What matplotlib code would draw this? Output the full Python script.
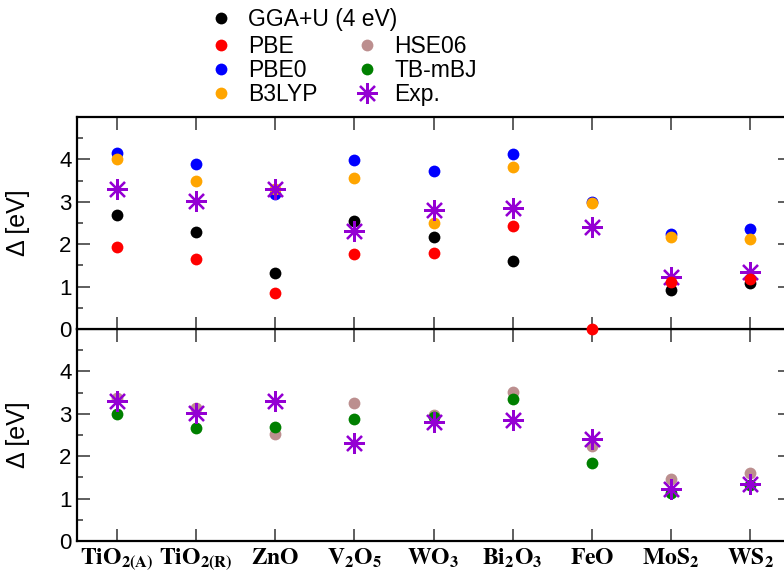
import numpy as np
import matplotlib
matplotlib.use("Agg")
import matplotlib.pyplot as plt
from matplotlib.ticker import MultipleLocator

plt.rcParams['font.family'] = ['Liberation Sans', 'DejaVu Sans']
plt.rcParams['mathtext.fontset'] = 'stix'

materials = [r'$\mathbf{TiO_{2(A)}}$', r'$\mathbf{TiO_{2(R)}}$', r'$\mathbf{ZnO}$',
             r'$\mathbf{V_2O_5}$', r'$\mathbf{WO_3}$', r'$\mathbf{Bi_2O_3}$',
             r'$\mathbf{FeO}$', r'$\mathbf{MoS_2}$', r'$\mathbf{WS_2}$']

# band gaps in eV (nan = not shown)
gga_u = [2.70, 2.29, 1.31, 2.55, 2.18, 1.60, np.nan, 0.91, 1.08]
pbe = [1.93, 1.65, 0.84, 1.76, 1.79, 2.44, 0.00, 1.12, 1.17]
pbe0 = [4.16, 3.88, 3.18, 3.99, 3.73, 4.12, 3.00, 2.25, 2.37]
b3lyp = [4.02, 3.48, 3.30, 3.57, 2.51, 3.83, 2.98, 2.16, 2.12]
hse06 = [3.38, 3.14, 2.53, 3.25, 2.96, 3.52, 2.25, 1.47, 1.60]
tbmbj = [3.00, 2.66, 2.69, 2.87, 2.92, 3.36, 1.84, 1.13, 1.32]
exp_gap = [3.30, 3.03, 3.30, 2.30, 2.81, 2.86, 2.40, 1.23, 1.35]

x = np.arange(len(materials))

fig = plt.figure(figsize=(7.84, 5.75), dpi=100)
ax_top = fig.add_axes([77 / 784, 1 - 329 / 575, 713 / 784, 212 / 575])
ax_bot = fig.add_axes([77 / 784, 1 - 541 / 575, 713 / 784, 212 / 575])
ax_top.set_zorder(2)

dot = dict(linestyle='none', marker='o', markersize=8.5, markeredgewidth=0, clip_on=False)
star = dict(linestyle='none', marker=(8, 2, 0), markersize=15, markeredgewidth=1.6,
            color='#9400D3', clip_on=False)

h_gga, = ax_top.plot(x, gga_u, color='black', **dot)
h_pbe, = ax_top.plot(x, pbe, color='red', zorder=5, **dot)
h_pbe0, = ax_top.plot(x, pbe0, color='blue', **dot)
h_b3, = ax_top.plot(x, b3lyp, color='orange', **dot)
h_exp, = ax_top.plot(x, exp_gap, **star)

h_hse, = ax_bot.plot(x, hse06, color='#BC8F8F', **dot)
h_tb, = ax_bot.plot(x, tbmbj, color='green', **dot)
ax_bot.plot(x, exp_gap, **star)

for ax in (ax_top, ax_bot):
    ax.set_xlim(-0.5, 8.5)
    ax.set_ylim(0, 5)
    ax.set_xticks(x)
    ax.yaxis.set_minor_locator(MultipleLocator(0.5))
    ax.set_yticks([0, 1, 2, 3, 4])
    ax.tick_params(which='both', direction='in', top=True, bottom=True,
                   left=True, right=True, labelsize=16, width=1.1, color='#333333')
    ax.tick_params(which='major', length=9, pad=4)
    ax.tick_params(which='minor', length=4.5, right=False)
    for sp in ax.spines.values():
        sp.set_linewidth(1.6)
    ax.set_ylabel('Δ [eV]', fontsize=18)
    ax.yaxis.set_label_coords(-0.066, 0.5)

ax_top.tick_params(labelbottom=False)
ax_bot.set_xticklabels(materials, fontsize=17)

leg_kw = dict(loc='upper left', frameon=False, fontsize=16.5, handlelength=1.0,
              handletextpad=0.7, borderpad=0, borderaxespad=0)
fig.legend([h_gga], ['GGA+U (4 eV)'], bbox_to_anchor=(0.267, 0.986), **leg_kw)
fig.legend([h_pbe, h_pbe0, h_b3, h_hse, h_tb, h_exp],
           ['PBE', 'PBE0', 'B3LYP', 'HSE06', 'TB-mBJ', 'Exp.'],
           ncol=2, bbox_to_anchor=(0.267, 0.939), labelspacing=0.05,
           columnspacing=1.65, **leg_kw)

fig.savefig('out.png', dpi=100)
